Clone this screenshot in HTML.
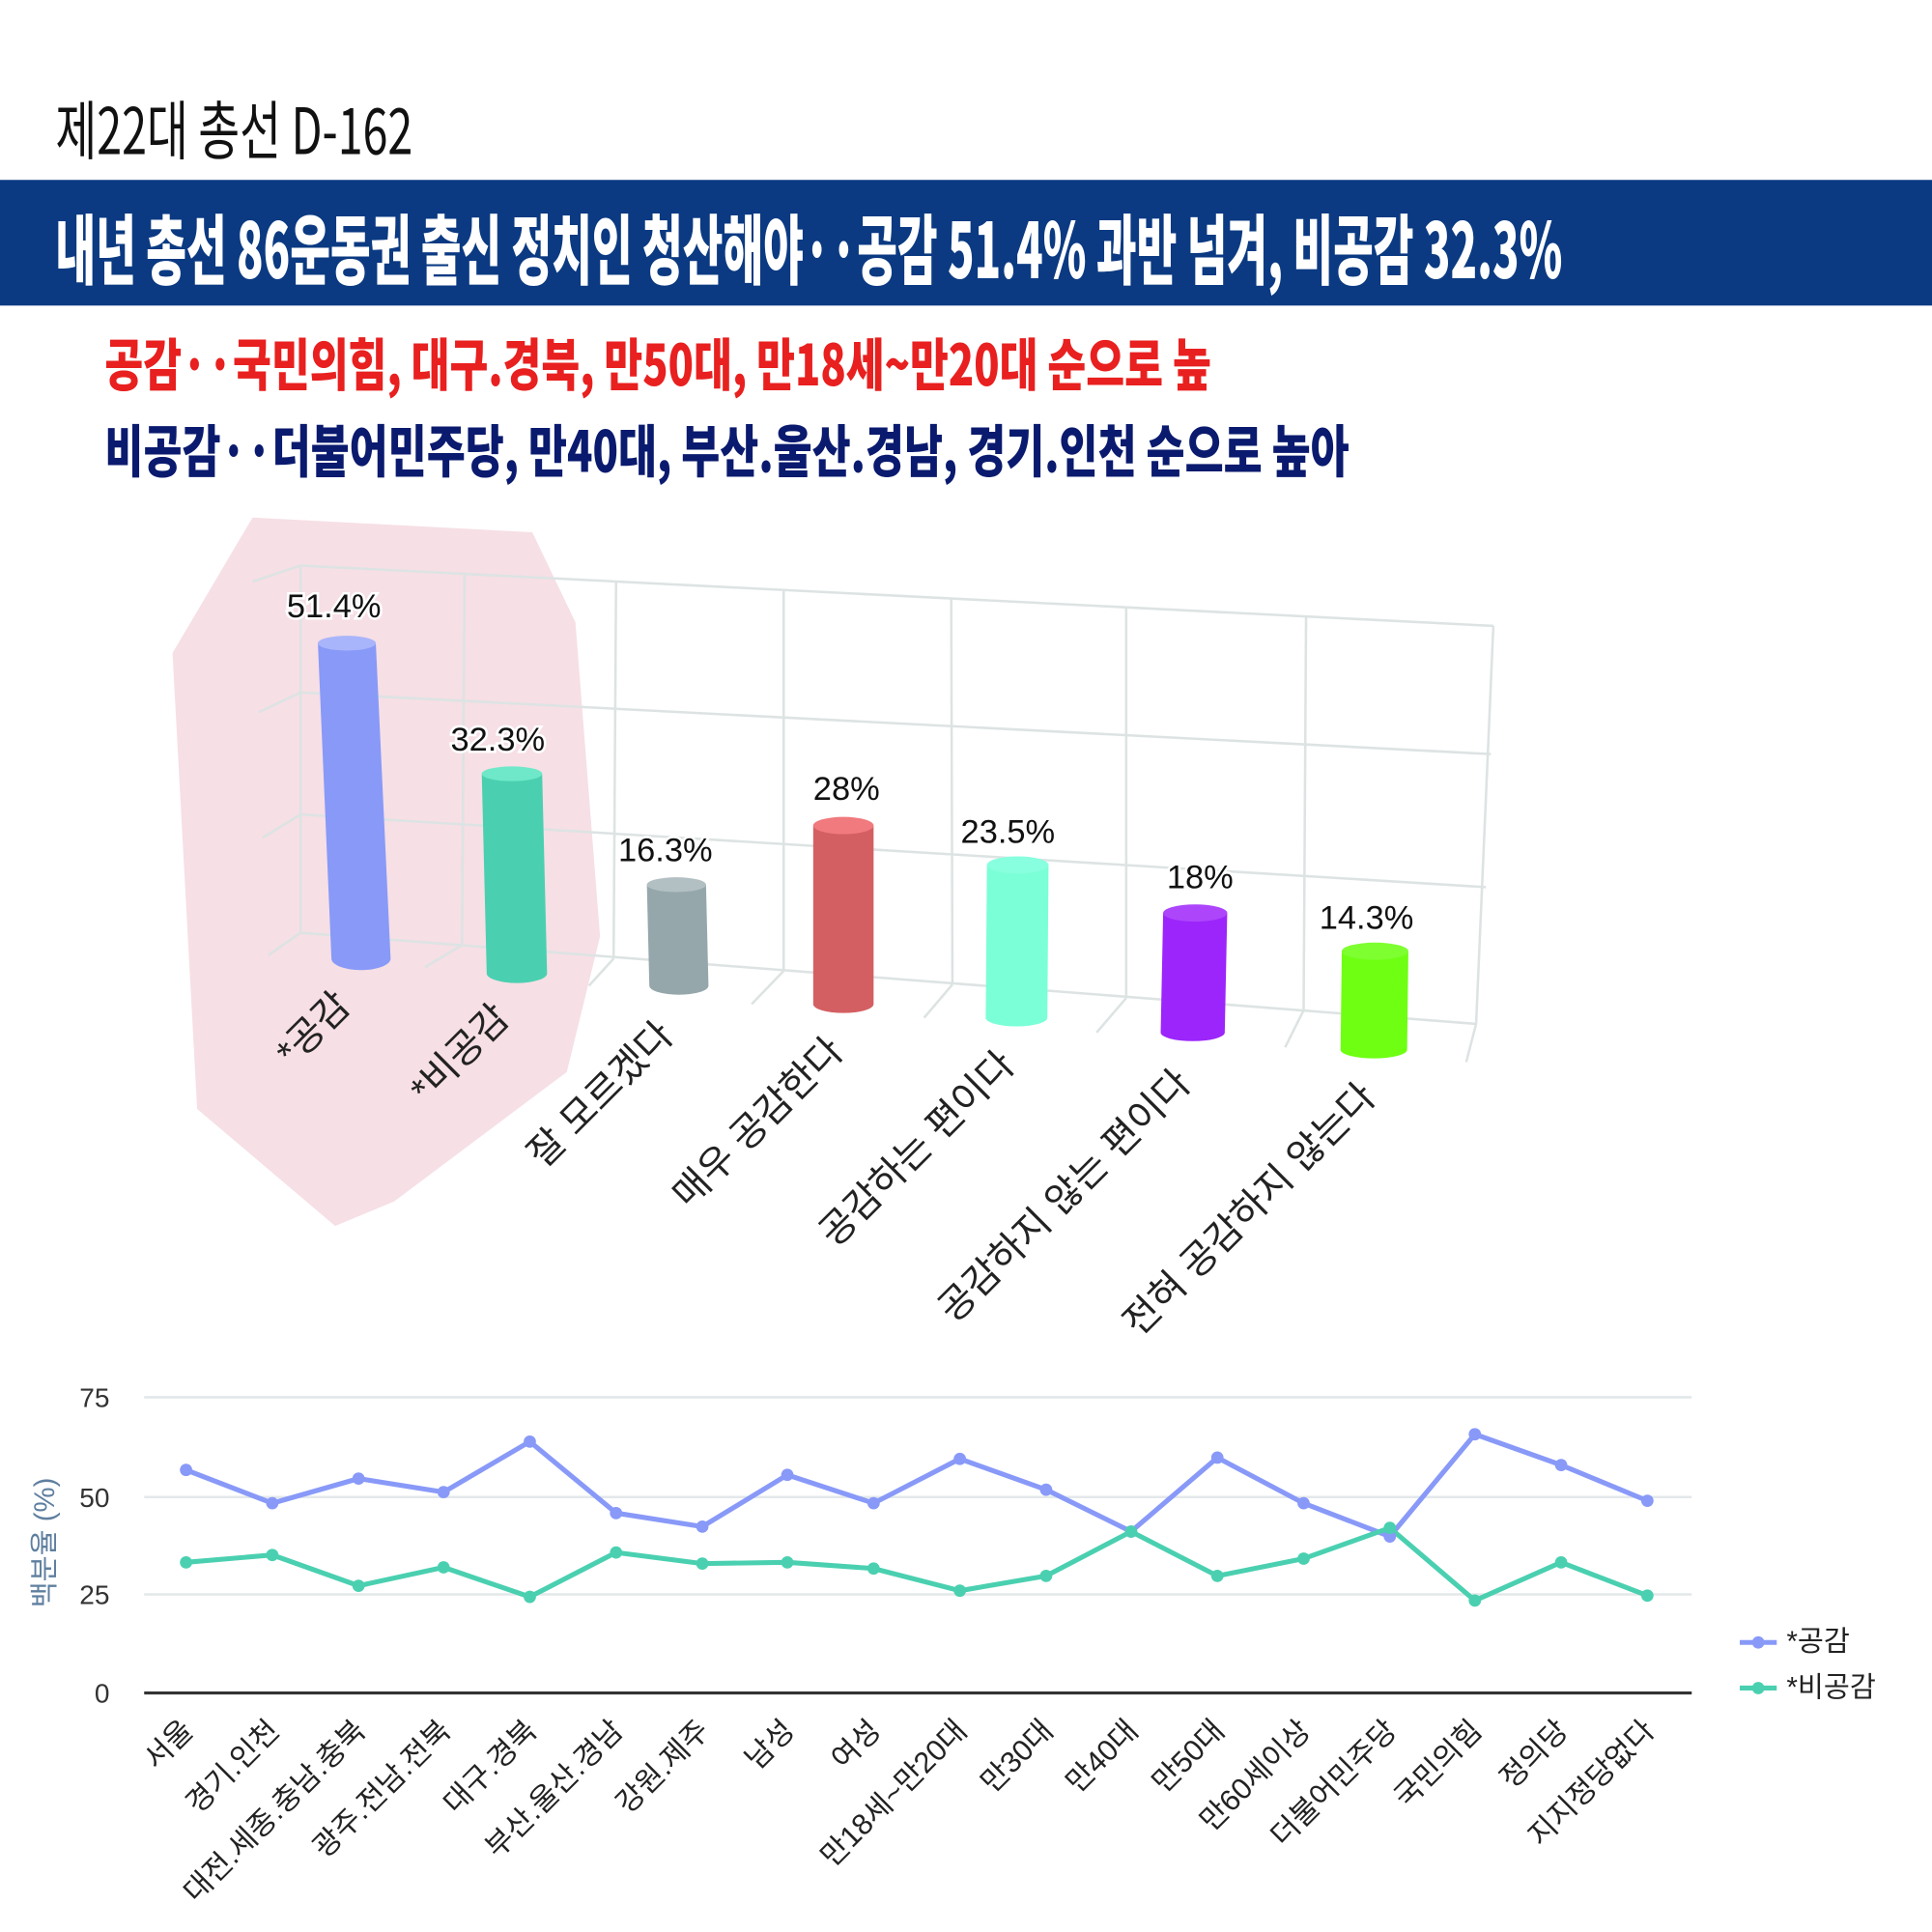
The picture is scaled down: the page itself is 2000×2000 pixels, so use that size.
<!DOCTYPE html>
<html><head><meta charset="utf-8"><style>
html,body{margin:0;padding:0;background:#fff;}
svg{display:block;}
text{font-family:"Liberation Sans","Noto Sans CJK KR",sans-serif;}
.h{font-family:"Noto Sans CJK KR","Liberation Sans",sans-serif;font-weight:900;}
</style></head><body>
<svg width="2000" height="2000" viewBox="0 0 1568 1568" xmlns="http://www.w3.org/2000/svg">
<rect width="1568" height="1568" fill="#fff"/>
<text x="45" y="125" font-size="52" class="h" style="font-weight:400" fill="#111" textLength="290" lengthAdjust="spacingAndGlyphs">제22대 총선 D-162</text>
<rect x="0" y="146" width="1568" height="102" fill="#0b3a82"/>
<text x="45" y="226" font-size="62" class="h" fill="#fff" textLength="1223" lengthAdjust="spacingAndGlyphs">내년 총선 86운동권 출신 정치인 청산해야··공감 51.4% 과반 넘겨, 비공감 32.3%</text>
<text x="85" y="313" font-size="46" class="h" fill="#e8201f" textLength="898" lengthAdjust="spacingAndGlyphs">공감··국민의힘, 대구.경북, 만50대, 만18세~만20대 순으로 높</text>
<text x="85" y="383" font-size="46" class="h" fill="#0a1a6e" textLength="1010" lengthAdjust="spacingAndGlyphs">비공감··더불어민주당, 만40대, 부산.울산.경남, 경기.인천 순으로 높아</text>

<polygon points="205,420 432,432 467,505 487,760 460,870 320,975 272,995 160,900 140,530" fill="#f6dfe5"/>

<g stroke="#dde3e3" stroke-width="2" fill="none">
<line x1="244" y1="459" x2="1212" y2="508"/>
<line x1="244" y1="562" x2="1210" y2="612"/>
<line x1="244" y1="661" x2="1206" y2="720"/>
<line x1="244" y1="757" x2="1198" y2="831"/>
<line x1="244" y1="459" x2="244" y2="757"/>
<line x1="377" y1="466" x2="375" y2="767"/>
<line x1="500" y1="472" x2="498" y2="778"/>
<line x1="636" y1="479" x2="636" y2="788"/>
<line x1="772" y1="486" x2="773" y2="799"/>
<line x1="914" y1="493" x2="914" y2="810"/>
<line x1="1060" y1="500" x2="1058" y2="820"/>
<line x1="1212" y1="508" x2="1198" y2="831"/>
<line x1="244" y1="459" x2="205" y2="472"/>
<line x1="244" y1="562" x2="210" y2="578"/>
<line x1="244" y1="661" x2="213" y2="680"/>
<line x1="244" y1="757" x2="218" y2="775"/>
<line x1="375" y1="767" x2="345" y2="785"/>
<line x1="498" y1="778" x2="478" y2="800"/>
<line x1="636" y1="788" x2="610" y2="815"/>
<line x1="773" y1="799" x2="750" y2="826"/>
<line x1="914" y1="810" x2="890" y2="838"/>
<line x1="1058" y1="820" x2="1043" y2="850"/>
<line x1="1198" y1="831" x2="1190" y2="862"/>
</g>

<g>
<path d="M258,522 L269,778 A18,7 0 0 0 317,778 L305,522 Z" fill="#8899f8"/>
<ellipse cx="281.5" cy="522" rx="23.5" ry="6" fill="#a9b5fb"/>
<path d="M391,628 L395,790 A22,7 0 0 0 444,790 L440,628 Z" fill="#4ad0b0"/>
<ellipse cx="415.5" cy="628" rx="24.5" ry="6" fill="#6ee8c8"/>
<path d="M525,718 L527,800 A23,7 0 0 0 575,800 L573,718 Z" fill="#95a7ab"/>
<ellipse cx="549" cy="718" rx="24" ry="6" fill="#b3c0c3"/>
<path d="M660,670 L660,815 A24,7 0 0 0 709,815 L709,670 Z" fill="#d45f62"/>
<ellipse cx="684.5" cy="670" rx="24.5" ry="7" fill="#f07a7e"/>
<path d="M801,702 L800,826 A25,7 0 0 0 850,826 L851,702 Z" fill="#7affd6"/>
<ellipse cx="826" cy="702" rx="25" ry="7" fill="#88ffde"/>
<path d="M944,741 L942,838 A26,7 0 0 0 994,838 L996,741 Z" fill="#9b25fa"/>
<ellipse cx="970" cy="741" rx="26" ry="7" fill="#ad45fb"/>
<path d="M1089,772 L1088,852 A27,7 0 0 0 1142,852 L1143,772 Z" fill="#6eff12"/>
<ellipse cx="1116" cy="772" rx="27" ry="7" fill="#7eff30"/>
</g>
<g font-size="27" fill="#111" text-anchor="middle" stroke="#fff" stroke-width="4" paint-order="stroke">
<text x="271" y="501">51.4%</text>
<text x="404" y="609">32.3%</text>
<text x="540" y="699">16.3%</text>
<text x="687" y="649">28%</text>
<text x="818" y="684">23.5%</text>
<text x="974" y="721">18%</text>
<text x="1109" y="754">14.3%</text>
</g>
<g font-size="31" fill="#222" text-anchor="end">
<text transform="translate(286,818) rotate(-45)">*공감</text>
<text transform="translate(415,828) rotate(-45)">*비공감</text>
<text transform="translate(548,842) rotate(-45)">잘 모르겠다</text>
<text transform="translate(686,855) rotate(-45)">매우 공감한다</text>
<text transform="translate(825,866) rotate(-45)">공감하는 편이다</text>
<text transform="translate(968,881) rotate(-45)">공감하지 않는 편이다</text>
<text transform="translate(1118,892) rotate(-45)">전혀 공감하지 않는다</text>
</g>

<g stroke="#e3e8ea" stroke-width="2">
<line x1="117" y1="1134" x2="1373" y2="1134"/>
<line x1="117" y1="1215" x2="1373" y2="1215"/>
<line x1="117" y1="1294" x2="1373" y2="1294"/>
</g>
<line x1="117" y1="1374" x2="1373" y2="1374" stroke="#333" stroke-width="2.5"/>
<g font-size="22" fill="#333" text-anchor="end">
<text x="89" y="1142">75</text><text x="89" y="1223">50</text><text x="89" y="1302">25</text><text x="89" y="1382">0</text>
</g>
<text transform="translate(44,1252) rotate(-90)" font-size="23" fill="#5f7f9f" text-anchor="middle">백분율 (%)</text>
<polyline fill="none" stroke="#8899f8" stroke-width="4" stroke-linejoin="round" points="151,1193 221,1220 291,1200 360,1211 430,1170 500,1228 570,1239 639,1197 709,1220 779,1184 849,1209 918,1243 988,1183 1058,1220 1128,1247 1197,1164 1267,1189 1337,1218"/>
<polyline fill="none" stroke="#4ad0b0" stroke-width="4" stroke-linejoin="round" points="151,1268 221,1262 291,1287 360,1272 430,1296 500,1260 570,1269 639,1268 709,1273 779,1291 849,1279 918,1243 988,1279 1058,1265 1128,1240 1197,1299 1267,1268 1337,1295"/>
<g fill="#8899f8">
<circle cx="151" cy="1193" r="5"/><circle cx="221" cy="1220" r="5"/><circle cx="291" cy="1200" r="5"/><circle cx="360" cy="1211" r="5"/><circle cx="430" cy="1170" r="5"/><circle cx="500" cy="1228" r="5"/><circle cx="570" cy="1239" r="5"/><circle cx="639" cy="1197" r="5"/><circle cx="709" cy="1220" r="5"/><circle cx="779" cy="1184" r="5"/><circle cx="849" cy="1209" r="5"/><circle cx="918" cy="1243" r="5"/><circle cx="988" cy="1183" r="5"/><circle cx="1058" cy="1220" r="5"/><circle cx="1128" cy="1247" r="5"/><circle cx="1197" cy="1164" r="5"/><circle cx="1267" cy="1189" r="5"/><circle cx="1337" cy="1218" r="5"/>
</g>
<g fill="#4ad0b0">
<circle cx="151" cy="1268" r="5"/><circle cx="221" cy="1262" r="5"/><circle cx="291" cy="1287" r="5"/><circle cx="360" cy="1272" r="5"/><circle cx="430" cy="1296" r="5"/><circle cx="500" cy="1260" r="5"/><circle cx="570" cy="1269" r="5"/><circle cx="639" cy="1268" r="5"/><circle cx="709" cy="1273" r="5"/><circle cx="779" cy="1291" r="5"/><circle cx="849" cy="1279" r="5"/><circle cx="918" cy="1243" r="5"/><circle cx="988" cy="1279" r="5"/><circle cx="1058" cy="1265" r="5"/><circle cx="1128" cy="1240" r="5"/><circle cx="1197" cy="1299" r="5"/><circle cx="1267" cy="1268" r="5"/><circle cx="1337" cy="1295" r="5"/>
</g>
<g font-size="24" fill="#222" text-anchor="end">
<text transform="translate(158,1406) rotate(-45)">서울</text>
<text transform="translate(228,1406) rotate(-45)">경기.인천</text>
<text transform="translate(298,1406) rotate(-45)">대전.세종.충남.충북</text>
<text transform="translate(367,1406) rotate(-45)">광주.전남.전북</text>
<text transform="translate(437,1406) rotate(-45)">대구.경북</text>
<text transform="translate(507,1406) rotate(-45)">부산.울산.경남</text>
<text transform="translate(577,1406) rotate(-45)">강원.제주</text>
<text transform="translate(646,1406) rotate(-45)">남성</text>
<text transform="translate(716,1406) rotate(-45)">여성</text>
<text transform="translate(786,1406) rotate(-45)">만18세~만20대</text>
<text transform="translate(856,1406) rotate(-45)">만30대</text>
<text transform="translate(925,1406) rotate(-45)">만40대</text>
<text transform="translate(995,1406) rotate(-45)">만50대</text>
<text transform="translate(1065,1406) rotate(-45)">만60세이상</text>
<text transform="translate(1135,1406) rotate(-45)">더불어민주당</text>
<text transform="translate(1204,1406) rotate(-45)">국민의힘</text>
<text transform="translate(1274,1406) rotate(-45)">정의당</text>
<text transform="translate(1344,1406) rotate(-45)">지지정당없다</text>
</g>
<line x1="1412" y1="1333" x2="1442" y2="1333" stroke="#8899f8" stroke-width="4"/><circle cx="1427" cy="1333" r="5" fill="#8899f8"/>
<line x1="1412" y1="1370" x2="1442" y2="1370" stroke="#4ad0b0" stroke-width="4"/><circle cx="1427" cy="1370" r="5" fill="#4ad0b0"/>
<text x="1450" y="1340" font-size="23" fill="#222">*공감</text>
<text x="1450" y="1377" font-size="23" fill="#222">*비공감</text>
</svg>
</body></html>
